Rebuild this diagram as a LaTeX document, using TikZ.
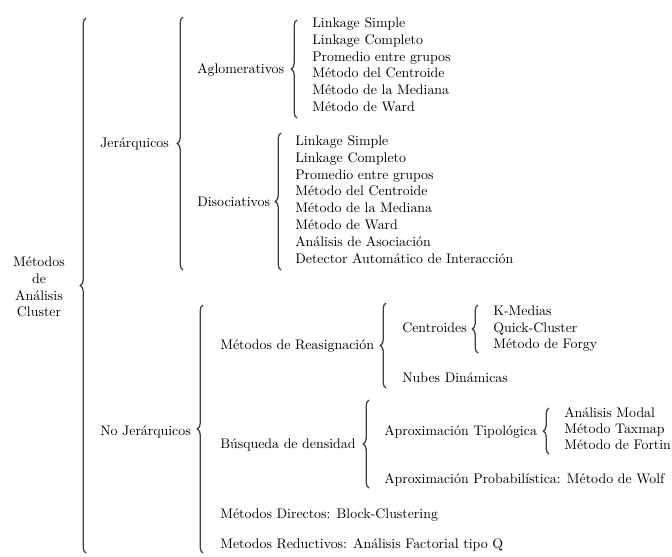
\documentclass[tikz,border=0pt]{standalone}
\usetikzlibrary{decorations.pathreplacing}
\begin{document}
\begin{tikzpicture}[x=0.71pt,y=-0.71pt,
  lbl/.style={anchor=west,inner sep=0pt,text height=7pt,text depth=2pt,font=\fontsize{9.85}{12}\selectfont},
  brc/.style={draw=black!75,line width=0.9pt,decorate,decoration={brace,amplitude=4pt}}]
\useasboundingbox (0,0) rectangle (672,556);
% root
\node[inner sep=0pt,align=center,font=\fontsize{9.85}{11.8}\selectfont] (root) at (39,287) {Métodos\\de\\Análisis\\Cluster};
\coordinate (r1) at (86,553); \coordinate (r2) at (86,18);
\draw[brc] (r1) -- (r2);
% Jerarquicos
\node[lbl] (jer) at (100,144) {Jerárquicos};
\coordinate (j1) at (183,270); \coordinate (j2) at (183,17);
\draw[brc] (j1) -- (j2);
\node[lbl] (agl) at (197,70) {Aglomerativos};
\coordinate (a1) at (297,118); \coordinate (a2) at (297,20);
\draw[brc] (a1) -- (a2);
\node[lbl] (a-1) at (312,24.0) {Linkage Simple};
\node[lbl] (a-2) at (312,40.8) {Linkage Completo};
\node[lbl] (a-3) at (312,57.6) {Promedio entre grupos};
\node[lbl] (a-4) at (312,74.4) {Método del Centroide};
\node[lbl] (a-5) at (312,91.2) {Método de la Mediana};
\node[lbl] (a-6) at (312,108.0) {Método de Ward};
\node[lbl] (dis) at (197,203) {Disociativos};
\coordinate (d1) at (281,270); \coordinate (d2) at (281,133);
\draw[brc] (d1) -- (d2);
\node[lbl] (d-1) at (295,142.0) {Linkage Simple};
\node[lbl] (d-2) at (295,158.8) {Linkage Completo};
\node[lbl] (d-3) at (295,175.6) {Promedio entre grupos};
\node[lbl] (d-4) at (295,192.4) {Método del Centroide};
\node[lbl] (d-5) at (295,209.2) {Método de la Mediana};
\node[lbl] (d-6) at (295,226.0) {Método de Ward};
\node[lbl] (d-7) at (295,242.8) {Análisis de Asociación};
\node[lbl] (d-8) at (295,259.6) {Detector Automático de Interacción};
% No jerarquicos
\node[lbl] (nojer) at (100,432) {No Jerárquicos};
\coordinate (n1) at (203,553); \coordinate (n2) at (203,305);
\draw[brc] (n1) -- (n2);
\node[lbl] (reas) at (220,346) {Métodos de Reasignación};
\coordinate (re1) at (386,388); \coordinate (re2) at (386,303);
\draw[brc] (re1) -- (re2);
\node[lbl] (cent) at (402,329) {Centroides};
\coordinate (c1) at (478,353); \coordinate (c2) at (478,305);
\draw[brc] (c1) -- (c2);
\node[lbl] (c-1) at (493,312) {K-Medias};
\node[lbl] (c-2) at (493,328.5) {Quick-Cluster};
\node[lbl] (c-3) at (493,345) {Método de Forgy};
\node[lbl] (nubes) at (402,379) {Nubes Dinámicas};
\node[lbl] (busq) at (220,445) {Búsqueda de densidad};
\coordinate (b1) at (369,488); \coordinate (b2) at (369,400);
\draw[brc] (b1) -- (b2);
\node[lbl] (tipo) at (384,432) {Aproximación Tipológica};
\coordinate (t1) at (549,454); \coordinate (t2) at (549,408);
\draw[brc] (t1) -- (t2);
\node[lbl] (t-1) at (564,414) {Análisis Modal};
\node[lbl] (t-2) at (564,430) {Método Taxmap};
\node[lbl] (t-3) at (564,446) {Método de Fortin};
\node[lbl] (prob) at (384,480) {Aproximación Probabilística: Método de Wolf};
\node[lbl] (dir) at (220,515) {Métodos Directos: Block-Clustering};
\node[lbl] (red) at (220,545) {Metodos Reductivos: Análisis Factorial tipo Q};
\end{tikzpicture}
\end{document}
